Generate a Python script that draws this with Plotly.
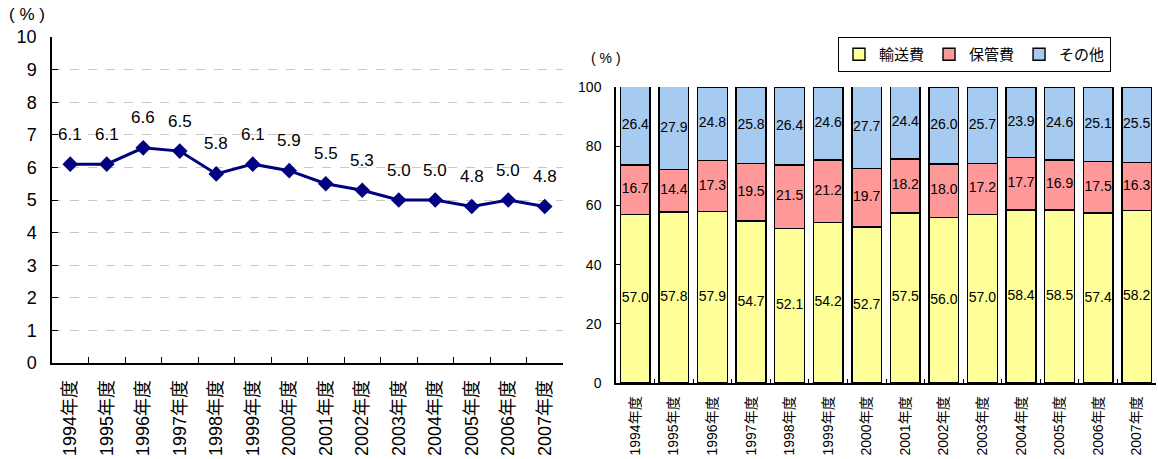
import plotly.graph_objects as go

# Fiscal years shown on both panels
years = ["1994年度", "1995年度", "1996年度", "1997年度", "1998年度", "1999年度", "2000年度",
         "2001年度", "2002年度", "2003年度", "2004年度", "2005年度", "2006年度", "2007年度"]

# Left panel: ratio (%)
ratio = [6.1, 6.1, 6.6, 6.5, 5.8, 6.1, 5.9, 5.5, 5.3, 5.0, 5.0, 4.8, 5.0, 4.8]

# Right panel: cost breakdown (%)
transport = [57.0, 57.8, 57.9, 54.7, 52.1, 54.2, 52.7, 57.5, 56.0, 57.0, 58.4, 58.5, 57.4, 58.2]
storage = [16.7, 14.4, 17.3, 19.5, 21.5, 21.2, 19.7, 18.2, 18.0, 17.2, 17.7, 16.9, 17.5, 16.3]
other = [26.4, 27.9, 24.8, 25.8, 26.4, 24.6, 27.7, 24.4, 26.0, 25.7, 23.9, 24.6, 25.1, 25.5]

series_names = ["輸送費", "保管費", "その他"]
series_colors = ["#FFFF99", "#FF9999", "#A6CAF0"]

FONT = "Liberation Sans, Arial, Noto Sans CJK JP, sans-serif"
W, H = 1158, 459
cat_range = [-0.5, len(years) - 0.5]

fig = go.Figure()

# ---- line chart ----
fig.add_trace(go.Scatter(
    x=years, y=ratio, mode="lines+markers",
    line=dict(color="#000080", width=3),
    marker=dict(symbol="diamond", size=12, color="#000080"),
    xaxis="x", yaxis="y", showlegend=False, hoverinfo="x+y",
))
for yr, v in zip(years, ratio):
    fig.add_annotation(x=yr, y=v, xref="x", yref="y", text=f"{v:.1f}",
                       showarrow=False, yshift=30, yanchor="middle",
                       font=dict(family=FONT, size=17, color="#000000"))

# ---- stacked bars ----
stack = [transport, storage, other]
for name, vals, col in zip(series_names, stack, series_colors):
    fig.add_trace(go.Bar(
        x=years, y=vals, name=name, xaxis="x2", yaxis="y2",
        marker=dict(color=col, line=dict(color="#000000", width=1.4)),
    ))

# segment value labels at each segment's midpoint
base = [0.0] * len(years)
for vals in stack:
    mids = [b + v / 2 for b, v in zip(base, vals)]
    fig.add_trace(go.Scatter(
        x=years, y=mids, mode="text", text=[f"{v:.1f}" for v in vals],
        textfont=dict(family=FONT, size=14, color="#000000"),
        xaxis="x2", yaxis="y2", showlegend=False, hoverinfo="skip",
        cliponaxis=False,
    ))
    base = [b + v for b, v in zip(base, vals)]


def px_x(p):
    return p / W


def px_y(p):
    return 1 - p / H


fig.update_layout(
    width=W, height=H,
    margin=dict(l=0, r=0, t=0, b=0, autoexpand=False),
    paper_bgcolor="white", plot_bgcolor="white",
    barmode="stack", bargap=0.23,
    font=dict(family=FONT, color="#000000"),
    xaxis=dict(
        domain=[px_x(52), px_x(563)], type="category", range=cat_range,
        automargin=False,
        showline=True, linecolor="#000000", linewidth=1.5,
        ticks="inside", ticklen=6, tickcolor="#000000", tickson="boundaries",
        tickangle=-90, tickfont=dict(size=18), showgrid=False,
        ticklabelstandoff=8,
    ),
    yaxis=dict(
        domain=[px_y(363), px_y(37)], range=[0, 10], dtick=1, automargin=False,
        showline=True, linecolor="#000000", linewidth=1.5,
        ticks="inside", ticklen=6, tickcolor="#000000",
        tickfont=dict(size=18), ticklabelstandoff=10,
        showgrid=True, gridcolor="#C8C8C8", griddash="dash", gridwidth=1,
        zeroline=False,
    ),
    xaxis2=dict(
        domain=[px_x(616), px_x(1156)], type="category", anchor="y2",
        range=cat_range, automargin=False,
        showline=True, linecolor="#000000", linewidth=1.5,
        ticks="inside", ticklen=4, tickcolor="#000000", tickson="boundaries",
        tickangle=-90, tickfont=dict(size=14), showgrid=False,
        ticklabelstandoff=6,
    ),
    yaxis2=dict(
        domain=[px_y(383), px_y(87)], range=[0, 100], dtick=20, anchor="x2",
        automargin=False,
        showline=True, linecolor="#000000", linewidth=1.5,
        ticks="inside", ticklen=5, tickcolor="#000000",
        tickfont=dict(size=14), ticklabelstandoff=10,
        showgrid=False, zeroline=False,
    ),
    legend=dict(
        orientation="h", x=px_x(838), y=px_y(37), xanchor="left", yanchor="top",
        bordercolor="#000000", borderwidth=1, bgcolor="white",
        font=dict(family="Noto Sans CJK JP, sans-serif", size=15),
        traceorder="normal", itemclick=False,
    ),
    annotations=list(fig.layout.annotations) + [
        dict(text="( % )", x=px_x(7), y=px_y(15), xref="paper", yref="paper",
             xanchor="left", yanchor="middle", showarrow=False,
             font=dict(size=17)),
        dict(text="( % )", x=px_x(589), y=px_y(58), xref="paper", yref="paper",
             xanchor="left", yanchor="middle", showarrow=False,
             font=dict(size=14)),
    ],
)

fig.write_html("out.html")
